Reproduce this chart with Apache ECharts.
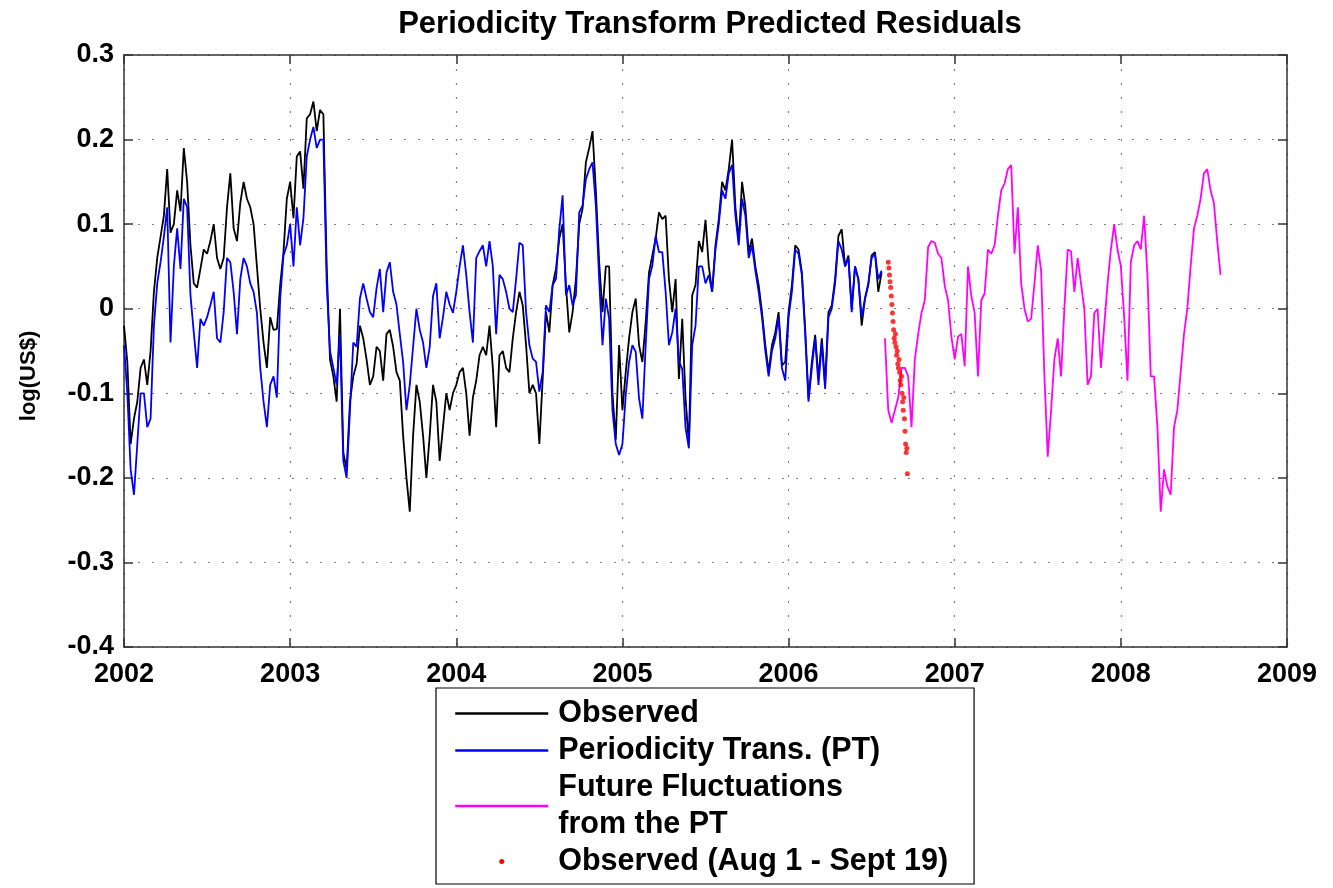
<!DOCTYPE html>
<html>
<head>
<meta charset="utf-8">
<title>Periodicity Transform Predicted Residuals</title>
<script src="https://cdn.jsdelivr.net/npm/echarts@6/dist/echarts.min.js"></script>
<style>
  html, body { margin: 0; padding: 0; background: #fff; }
  #chart { width: 1333px; height: 888px; }
</style>
</head>
<body>
<div id="chart"></div>
<script>
// Weekly-ish samples: series start year and spacing (years)
const obsStart = 2002.0;
const obsStep = 0.02;
const futureStart = 2006.58;
const futureStep = 0.02;
const recentStart = 2006.60;
const recentStep = 0.0036;

// Observed residuals, log(US$)
const observed = [
  -0.02, -0.063, -0.16, -0.13, -0.11, -0.07, -0.06, -0.09, -0.05, 0.02,
  0.06, 0.085, 0.11, 0.165, 0.09, 0.10, 0.14, 0.115, 0.19, 0.15,
  0.075, 0.03, 0.025, 0.047, 0.07, 0.065, 0.08, 0.10, 0.06, 0.047,
  0.06, 0.12, 0.16, 0.095, 0.08, 0.125, 0.15, 0.13, 0.12, 0.10,
  0.05, 0.0, -0.04, -0.07, -0.01, -0.025, -0.024, 0.028, 0.067, 0.13,
  0.15, 0.107, 0.18, 0.186, 0.142, 0.225, 0.23, 0.245, 0.21, 0.235,
  0.23, 0.05, -0.06, -0.08, -0.11, 0.0, -0.17, -0.19, -0.11, -0.08,
  -0.065, -0.02, -0.035, -0.06, -0.09, -0.08, -0.045, -0.05, -0.085, -0.03,
  -0.025, -0.045, -0.075, -0.085, -0.15, -0.2, -0.24, -0.15, -0.09, -0.11,
  -0.15, -0.2, -0.15, -0.09, -0.11, -0.18, -0.14, -0.1, -0.12, -0.1,
  -0.09, -0.075, -0.07, -0.1, -0.15, -0.105, -0.085, -0.055, -0.045, -0.055,
  -0.02, -0.07, -0.14, -0.055, -0.05, -0.07, -0.075, -0.035, -0.004, 0.02,
  0.004, -0.043, -0.1, -0.09, -0.1, -0.16, -0.083, -0.004, -0.028, 0.028,
  0.047, 0.083, 0.10, 0.028, -0.028, -0.004, 0.035, 0.10, 0.118, 0.173,
  0.19, 0.21, 0.14, 0.055, -0.004, 0.05, 0.05, -0.1, -0.155, -0.043,
  -0.12, -0.075, -0.035, -0.004, 0.012, -0.043, -0.063, -0.016, 0.043, 0.063,
  0.083, 0.114, 0.106, 0.11, 0.035, -0.004, 0.035, -0.083, -0.012, -0.106,
  -0.16, 0.016, 0.028, 0.08, 0.067, 0.105, 0.05, 0.02, 0.075, 0.106,
  0.15, 0.14, 0.165, 0.2, 0.12, 0.08, 0.15, 0.12, 0.067, 0.083,
  0.05, 0.028, -0.004, -0.043, -0.075, -0.043, -0.028, -0.004, -0.067, -0.063,
  -0.004, 0.028, 0.075, 0.07, 0.043, -0.024, -0.106, -0.063, -0.031, -0.083,
  -0.035, -0.09, -0.004, 0.004, 0.035, 0.086, 0.094, 0.05, 0.063, 0.0,
  0.05, 0.035, -0.02, 0.012, 0.028, 0.063, 0.067, 0.02, 0.043
];

// Periodicity Transform reconstruction, same dates as observed
const periodicity = [
  -0.043, -0.10, -0.19, -0.22, -0.16, -0.10, -0.10, -0.14, -0.13, -0.02,
  0.03, 0.055, 0.085, 0.12, -0.04, 0.05, 0.095, 0.047, 0.13, 0.12,
  0.016, -0.028, -0.07, -0.012, -0.02, -0.01, 0.004, 0.02, -0.035, -0.04,
  -0.004, 0.06, 0.055, 0.02, -0.03, 0.035, 0.06, 0.05, 0.03, 0.02,
  -0.005, -0.07, -0.11, -0.14, -0.09, -0.08, -0.105, 0.012, 0.063, 0.075,
  0.10, 0.05, 0.12, 0.075, 0.107, 0.18, 0.20, 0.215, 0.19, 0.2,
  0.2, 0.03, -0.05, -0.07, -0.09, -0.03, -0.18, -0.2, -0.12, -0.04,
  -0.045, 0.012, 0.03, 0.012, -0.004, -0.01, 0.024, 0.047, -0.004, 0.043,
  0.055, 0.02, 0.005, -0.03, -0.063, -0.12, -0.09, -0.045, 0.0, -0.025,
  -0.04, -0.07, -0.045, 0.015, 0.03, -0.035, -0.01, 0.02, 0.005, -0.005,
  0.02, 0.05, 0.075, 0.04, -0.004, -0.04, 0.06, 0.068, 0.075, 0.05,
  0.08, 0.05, -0.03, 0.04, 0.035, 0.02, 0.0, -0.004, 0.035, 0.078,
  0.075, -0.004, -0.043, -0.059, -0.063, -0.098, -0.075, 0.004, -0.004, 0.028,
  0.035, 0.094, 0.134, 0.016, 0.028, 0.004, 0.016, 0.114, 0.122, 0.153,
  0.165, 0.173, 0.122, 0.035, -0.043, 0.012, -0.012, -0.12, -0.16, -0.173,
  -0.16, -0.102, -0.063, -0.043, -0.051, -0.106, -0.13, -0.043, 0.035, 0.051,
  0.086, 0.067, 0.067, 0.02, -0.043, -0.028, 0.0, -0.063, -0.071, -0.141,
  -0.165, -0.043, -0.02, 0.05, 0.05, 0.03, 0.04, 0.02, 0.07, 0.1,
  0.14, 0.13, 0.16, 0.17, 0.11, 0.075, 0.13, 0.11, 0.06, 0.075,
  0.045, 0.02, -0.01, -0.05, -0.08, -0.05, -0.035, -0.01, -0.07, -0.085,
  -0.01, 0.02, 0.07, 0.065, 0.04, -0.03, -0.11, -0.07, -0.035, -0.09,
  -0.04, -0.095, -0.01, 0.0, 0.03, 0.08, 0.07, 0.05, 0.06, -0.004,
  0.05, 0.035, -0.01, 0.012, 0.03, 0.06, 0.065, 0.035, 0.045
];

// Future fluctuations projected by the PT
const future = [
  -0.035, -0.12, -0.135, -0.12, -0.105, -0.07, -0.07, -0.08, -0.14, -0.06,
  -0.03, -0.005, 0.01, 0.073, 0.08, 0.078, 0.065, 0.06, 0.027, 0.01,
  -0.033, -0.06, -0.033, -0.03, -0.068, 0.05, 0.015, -0.005, -0.08, 0.01,
  0.018, 0.07, 0.065, 0.075, 0.11, 0.14, 0.148, 0.165, 0.17, 0.065,
  0.12, 0.03, 0.0, -0.015, -0.012, 0.03, 0.075, 0.045, -0.08, -0.175,
  -0.12, -0.06, -0.035, -0.08, 0.0, 0.07, 0.068, 0.02, 0.06, 0.03,
  0.0, -0.09, -0.08, -0.005, 0.0, -0.07, -0.02, 0.03, 0.07, 0.1,
  0.07, 0.05, -0.01, -0.085, 0.055, 0.075, 0.08, 0.07, 0.11, 0.04,
  -0.08, -0.08, -0.14, -0.24, -0.19, -0.21, -0.22, -0.14, -0.12, -0.075,
  -0.03, 0.0, 0.05, 0.095, 0.11, 0.13, 0.16, 0.165, 0.14, 0.125,
  0.08, 0.04
];

// Observed values, Aug 1 - Sept 19 (daily)
const recent = [
  0.055, 0.048, 0.04, 0.032, 0.025, 0.015, 0.005, -0.005, -0.015, -0.025,
  -0.035, -0.04, -0.03, -0.045, -0.055, -0.05, -0.065, -0.07, -0.06, -0.075,
  -0.085, -0.09, -0.08, -0.1, -0.11, -0.12, -0.105, -0.13, -0.145, -0.16,
  -0.17, -0.165, -0.195
];

// Axis ticks and their labels
const xTicks = [2002, 2003, 2004, 2005, 2006, 2007, 2008, 2009];
const xTickLabels = ['2002', '2003', '2004', '2005', '2006', '2007', '2008', '2009'];
const yTicks = [-0.4, -0.3, -0.2, -0.1, 0, 0.1, 0.2, 0.3];
const yTickLabels = ['-0.4', '-0.3', '-0.2', '-0.1', '0', '0.1', '0.2', '0.3'];

const seriesNames = [
  'Observed',
  'Periodicity Trans. (PT)',
  'Future Fluctuations\nfrom the PT',
  'Observed (Aug 1 - Sept 19)'
];

function toPairs(values, start, step) {
  return values.map(function (v, i) { return [start + i * step, v]; });
}
function tickLabel(ticks, labels) {
  return function (value) {
    for (let i = 0; i < ticks.length; i++) {
      if (Math.abs(ticks[i] - value) < 1e-6) return labels[i];
    }
    return '';
  };
}

const FONT = '"Liberation Sans", Arial, Helvetica, sans-serif';
const frameColor = '#333';
const gridDots = { type: [2, 12], color: '#808080', width: 1.2 };
const frameLine = { show: true, onZero: false, lineStyle: { color: frameColor, width: 1.5 } };
const innerTicks = { show: true, inside: true, length: 9, lineStyle: { color: frameColor, width: 1.5 } };

const chart = echarts.init(document.getElementById('chart'), null, { renderer: 'canvas' });

chart.setOption({
  animation: false,
  backgroundColor: '#ffffff',
  title: {
    text: 'Periodicity Transform Predicted Residuals',
    left: 705,
    textAlign: 'center',
    top: 4,
    textStyle: { fontFamily: FONT, fontWeight: 'bold', fontSize: 31, color: '#000' }
  },
  grid: { left: 124, right: 46, top: 55, bottom: 241, containLabel: false },
  xAxis: [
    {
      type: 'value', min: 2002, max: 2009, interval: 1, position: 'bottom',
      axisLine: frameLine,
      axisTick: innerTicks,
      axisLabel: {
        show: true, margin: 14, color: '#000', fontFamily: FONT, fontWeight: 'bold', fontSize: 27,
        formatter: tickLabel(xTicks, xTickLabels)
      },
      splitLine: { show: true, lineStyle: gridDots }
    },
    {
      type: 'value', min: 2002, max: 2009, interval: 1, position: 'top',
      axisLine: frameLine,
      axisTick: innerTicks,
      axisLabel: { show: false },
      splitLine: { show: false }
    }
  ],
  yAxis: [
    {
      type: 'value', min: -0.4, max: 0.3, interval: 0.1, position: 'left',
      name: 'log(US$)', nameLocation: 'middle', nameGap: 84, nameRotate: 90,
      nameTextStyle: {
        fontFamily: FONT, fontWeight: 'bold', fontSize: 22, color: '#000',
        padding: [0, 50, 0, 0]
      },
      axisLine: frameLine,
      axisTick: innerTicks,
      axisLabel: {
        show: true, margin: 10, color: '#000', fontFamily: FONT, fontWeight: 'bold', fontSize: 27,
        formatter: tickLabel(yTicks, yTickLabels)
      },
      splitLine: { show: true, lineStyle: gridDots }
    },
    {
      type: 'value', min: -0.4, max: 0.3, interval: 0.1, position: 'right',
      axisLine: frameLine,
      axisTick: innerTicks,
      axisLabel: { show: false },
      splitLine: { show: false }
    }
  ],
  legend: {
    orient: 'vertical',
    left: 436,
    top: 688,
    data: [
      { name: seriesNames[0], itemStyle: { opacity: 0 } },
      { name: seriesNames[1], itemStyle: { opacity: 0 } },
      { name: seriesNames[2], itemStyle: { opacity: 0 } },
      { name: seriesNames[3], icon: 'circle', itemStyle: { opacity: 1 } }
    ],
    backgroundColor: '#ffffff',
    borderColor: '#000',
    borderWidth: 1.2,
    borderRadius: 0,
    padding: [7, 26, 4, 18],
    itemWidth: 93,
    itemHeight: 5,
    itemGap: 0,
    selectedMode: false,
    lineStyle: { width: 2.5 },
    textStyle: {
      fontFamily: FONT, fontWeight: 'bold', fontSize: 30.5, color: '#000', lineHeight: 37,
      padding: [0, 0, 0, 5]
    }
  },
  series: [
    {
      name: seriesNames[0], type: 'line', xAxisIndex: 0, yAxisIndex: 0,
      data: toPairs(observed, obsStart, obsStep),
      symbol: 'none', color: '#000000',
      lineStyle: { color: '#000000', width: 1.8 }, z: 2
    },
    {
      name: seriesNames[1], type: 'line', xAxisIndex: 0, yAxisIndex: 0,
      data: toPairs(periodicity, obsStart, obsStep),
      symbol: 'none', color: '#0000ff',
      lineStyle: { color: '#0000ff', width: 1.8 }, z: 3
    },
    {
      name: seriesNames[2], type: 'line', xAxisIndex: 0, yAxisIndex: 0,
      data: toPairs(future, futureStart, futureStep),
      symbol: 'none', color: '#ff00ff',
      lineStyle: { color: '#ff00ff', width: 1.8 }, z: 3
    },
    {
      name: seriesNames[3], type: 'scatter', xAxisIndex: 0, yAxisIndex: 0,
      data: toPairs(recent, recentStart, recentStep),
      symbol: 'circle', symbolSize: 5, color: '#ff0000',
      itemStyle: { color: '#ff0000' }, z: 5
    }
  ]
});
</script>
</body>
</html>
